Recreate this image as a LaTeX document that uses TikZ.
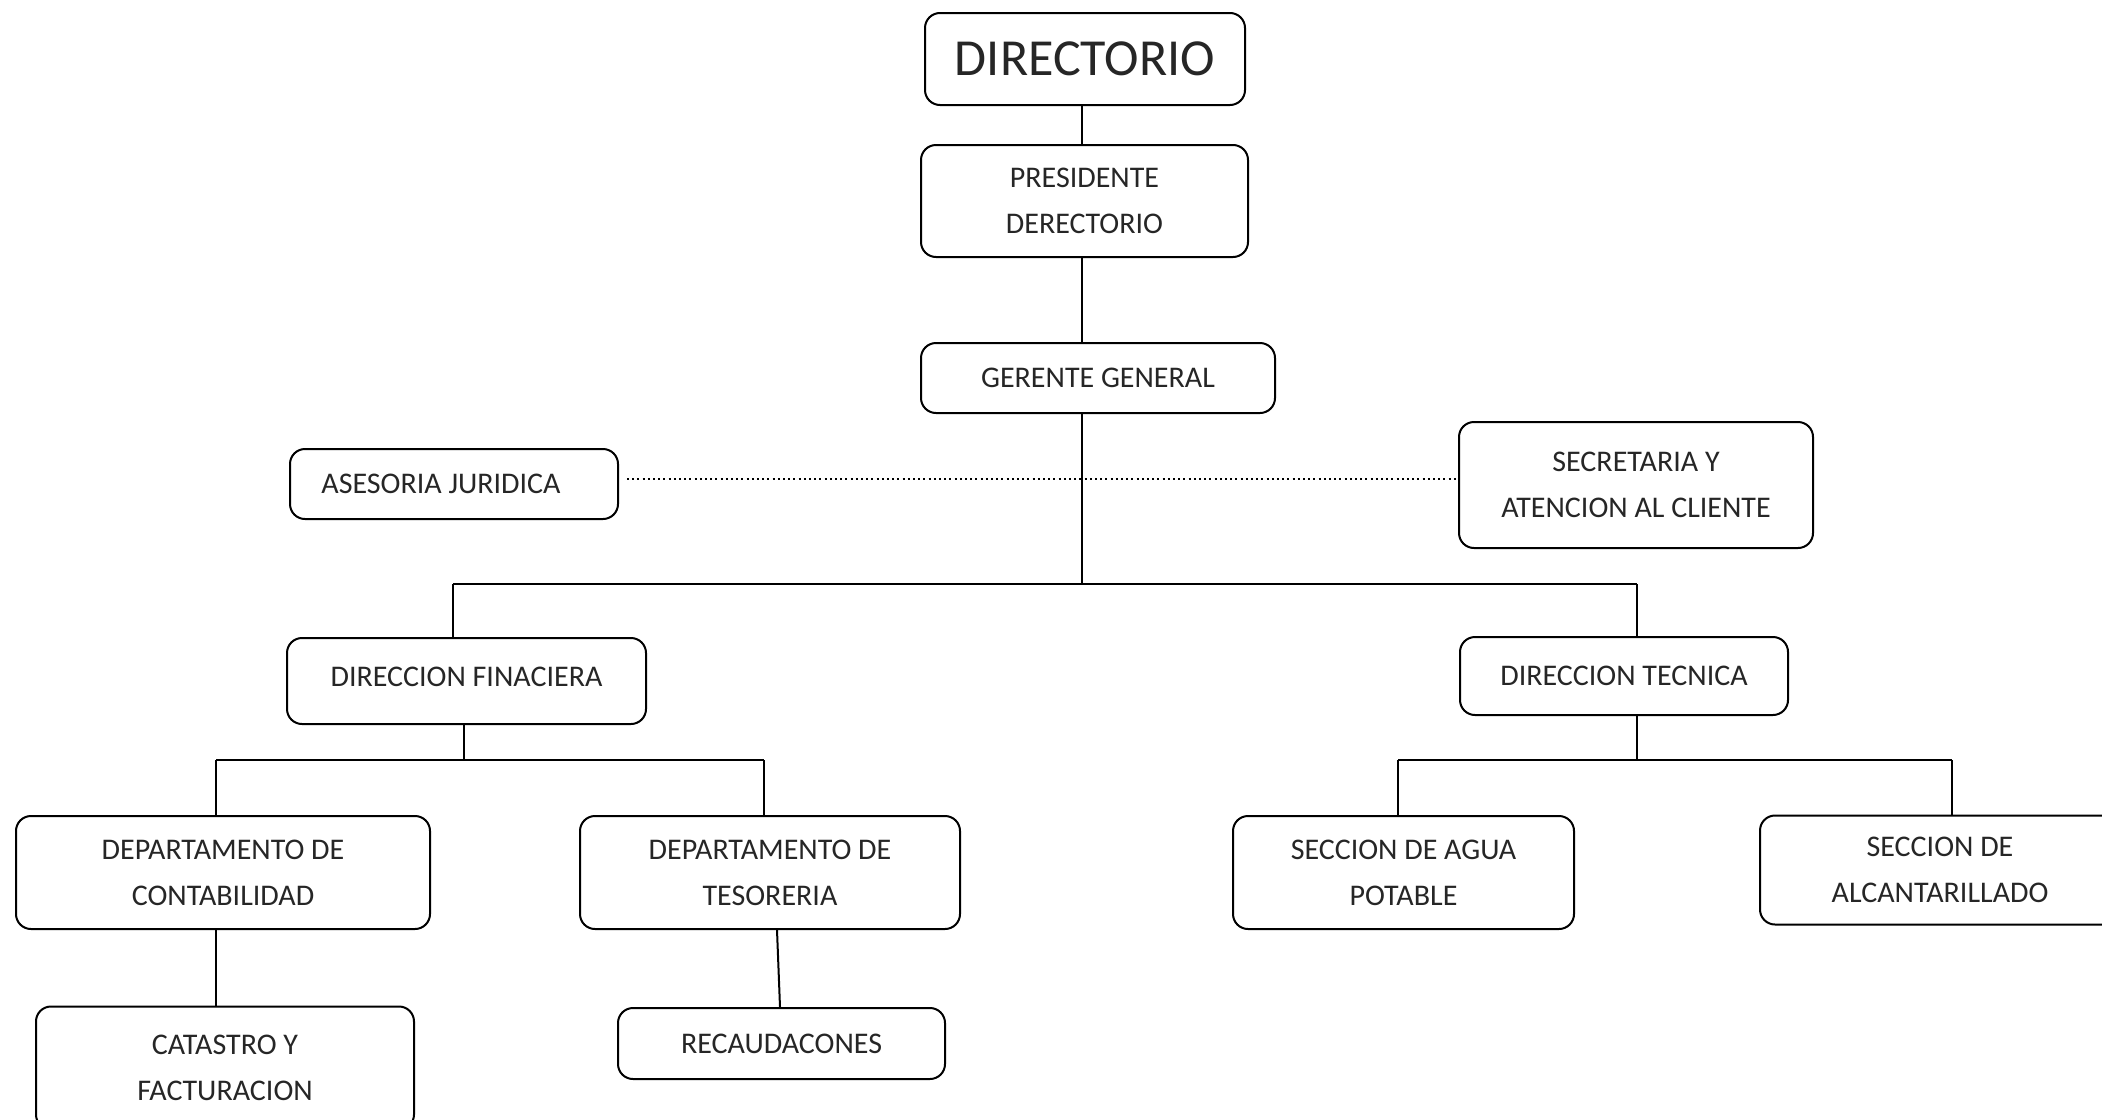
\documentclass[tikz,border=0pt]{standalone}
\usepackage{fontspec}
\setmainfont{Carlito}
\usepackage{tikz}
\usetikzlibrary{positioning,calc}
\tikzset{
  % organigrama
  caja/.style={draw=black,fill=white,rounded corners=7.5pt,line width=1pt,
               align=center,inner sep=0pt,text=black!85,
               font=\fontsize{15}{23}\selectfont},
  enlace/.style={draw=black,line width=1.4pt},
  punteo/.style={draw=black,line width=1.4pt,dash pattern=on 1pt off 1.6pt},
}
\begin{document}
\begin{tikzpicture}[x=0.5pt,y=-0.5pt]
\useasboundingbox (0,0) rectangle (2102,1119);
  \node[caja,minimum width=160pt,minimum height=46pt,font=\fontsize{26}{30}\selectfont] (dir) at (1085,59) {DIRECTORIO};
  \node[caja,minimum width=163.5pt,minimum height=56pt] (pres) at (1084.5,201) {PRESIDENTE\\DERECTORIO};
  \node[caja,minimum width=177pt,minimum height=35pt] (ger) at (1098,378) {GERENTE GENERAL};
  \node[caja,minimum width=164pt,minimum height=35pt] (ases) at (454,484) {ASESORIA JURIDICA\hspace*{13pt}};
  \node[caja,minimum width=177pt,minimum height=63pt] (secr) at (1636,485) {SECRETARIA Y\\ATENCION AL CLIENTE};
  \node[caja,minimum width=179.5pt,minimum height=43pt] (dfin) at (466.5,681) {\raisebox{4pt}{DIRECCION FINACIERA}};
  \node[caja,minimum width=164pt,minimum height=39pt] (dtec) at (1624,676) {DIRECCION TECNICA};
  \node[caja,minimum width=207pt,minimum height=56.5pt] (dcon) at (223,872.5) {DEPARTAMENTO DE\\CONTABILIDAD};
  \node[caja,minimum width=190pt,minimum height=56.5pt] (dtes) at (770,872.5) {DEPARTAMENTO DE\\TESORERIA};
  \node[caja,minimum width=189pt,minimum height=61.5pt] (cat) at (225,1068) {CATASTRO Y\\FACTURACION};
  \node[caja,minimum width=163.5pt,minimum height=35.5pt] (rec) at (781.5,1043.5) {RECAUDACONES};
  \node[caja,minimum width=170.5pt,minimum height=56.5pt] (agua) at (1403.5,872.5) {SECCION DE AGUA\\POTABLE};
  \node[caja,minimum width=180pt,minimum height=54.5pt] (alc) at (1940,870) {SECCION DE\\ALCANTARILLADO};
  % puntos de union
  \coordinate (tronco) at (1082,584);
  \coordinate (bI) at (453,584);
  \coordinate (bD) at (1637,584);
  \coordinate (fI) at (216,760);
  \coordinate (fD) at (764,760);
  \coordinate (tI) at (1398,760);
  \coordinate (tD) at (1952,760);
  \draw[enlace] (dir.south -| tronco) -- (pres.north -| tronco);
  \draw[enlace] (pres.south -| tronco) -- (ger.north -| tronco);
  \draw[enlace] (ger.south -| tronco) -- (tronco);
  \draw[punteo] (ases.east) ++(8,-5) -- ($(secr.west)+(0,-6)$);
  \draw[enlace] (bI) -- (bD);
  \draw[enlace] (bI) -- (bI |- dfin.north);
  \draw[enlace] (bD) -- (bD |- dtec.north);
  \draw[enlace] (dfin.south -| 464,0) -- (464,760);
  \draw[enlace] (fI) -- (fD);
  \draw[enlace] (fI) -- (fI |- dcon.north);
  \draw[enlace] (fD) -- (fD |- dtes.north);
  \draw[enlace] (dcon.south -| fI) -- (cat.north -| fI);
  \draw[line width=1pt] (dtes.south -| 777,0) -- (rec.north -| 780,0);
  \draw[enlace] (dtec.south -| bD) -- (bD |- tI);
  \draw[enlace] (tI) -- (tD);
  \draw[enlace] (tI) -- (tI |- agua.north);
  \draw[enlace] (tD) -- (tD |- alc.north);
\end{tikzpicture}
\end{document}
